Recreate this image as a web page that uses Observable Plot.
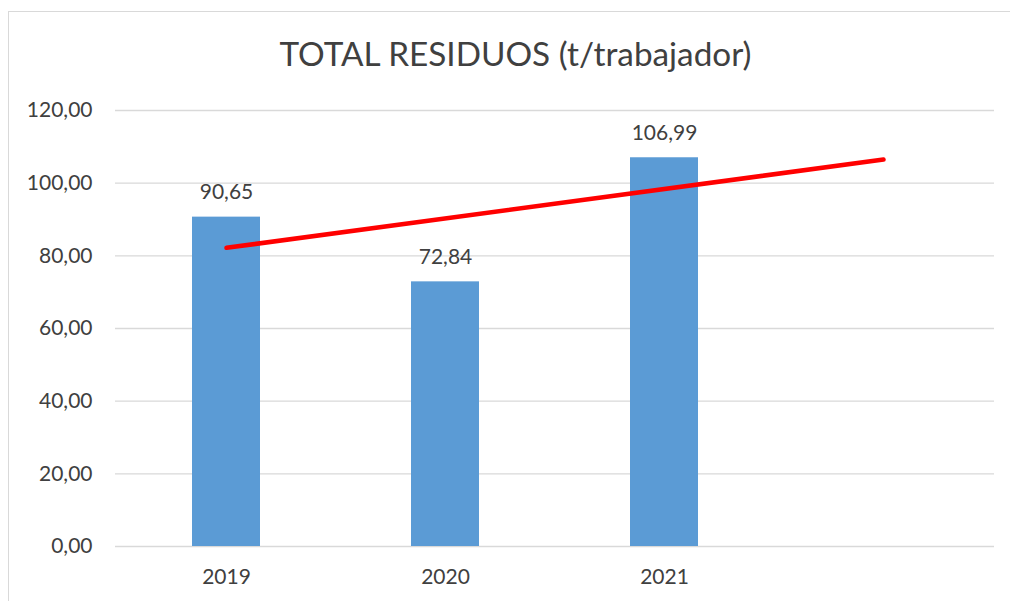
<!DOCTYPE html>
<html>
<head>
<meta charset="utf-8">
<script src="https://cdn.jsdelivr.net/npm/d3@7"></script>
<script src="https://cdn.jsdelivr.net/npm/@observablehq/plot@0.6"></script>
<style>
  html, body { margin: 0; padding: 0; background: #fff; }
  #wrap { position: relative; width: 1010px; height: 601px; overflow: hidden; font-family: Lato, "Open Sans", sans-serif; }
  #border { position: absolute; left: 8px; top: 11px; width: 1100px; height: 700px; border: 1.5px solid #d9d9d9; box-sizing: border-box; }
  #title { position: absolute; left: 0; top: 37px; width: 1031px; text-align: center; font-size: 33.3px; line-height: 1; color: #404040; white-space: nowrap; }
  #chart { position: absolute; left: 0; top: 0; }
</style>
</head>
<body>
<div id="wrap">
  <div id="border"></div>
  <div id="chart"></div>
  <div id="title">TOTAL RESIDUOS (t/trabajador)</div>
</div>
<script>
const categories = ["2019", "2020", "2021", " "];
const years = ["2019", "2020", "2021"];
const values = [90.65, 72.84, 106.99];
const trendX = ["2019", " "];
const trendY = [82.2, 106.5];
const yTicks = [0, 20, 40, 60, 80, 100, 120];

const bars = years.map((year, i) => ({year, value: values[i]}));
const trend = trendX.map((x, i) => ({x, y: trendY[i]}));
const fmt = d => d.toFixed(2).replace(".", ",");

const plot = Plot.plot({
  width: 1010,
  height: 601,
  marginTop: 110,
  marginBottom: 55,
  marginLeft: 115,
  marginRight: 16,
  style: {fontFamily: "Lato, 'Open Sans', sans-serif", fontSize: "21px", color: "#404040", background: "transparent", overflow: "visible"},
  x: {domain: categories, paddingInner: 0.689, paddingOuter: 0.3445, label: null, tickSize: 0, tickPadding: 23},
  y: {domain: [0, 120], ticks: yTicks, tickFormat: fmt, label: null, tickSize: 0, tickPadding: 23},
  marks: [
    Plot.gridY(yTicks, {stroke: "#d9d9d9", strokeOpacity: 1, strokeWidth: 1.4}),
    Plot.barY(bars, {x: "year", y: "value", fill: "#5b9bd5"}),
    Plot.text(bars, {x: "year", y: "value", text: d => fmt(d.value), lineAnchor: "middle", dy: -25, fill: "#404040", fontSize: 21}),
    Plot.line(trend, {x: "x", y: "y", stroke: "#ff0000", strokeWidth: 4.5, strokeLinecap: "round"})
  ]
});
document.getElementById("chart").appendChild(plot);
</script>
</body>
</html>
